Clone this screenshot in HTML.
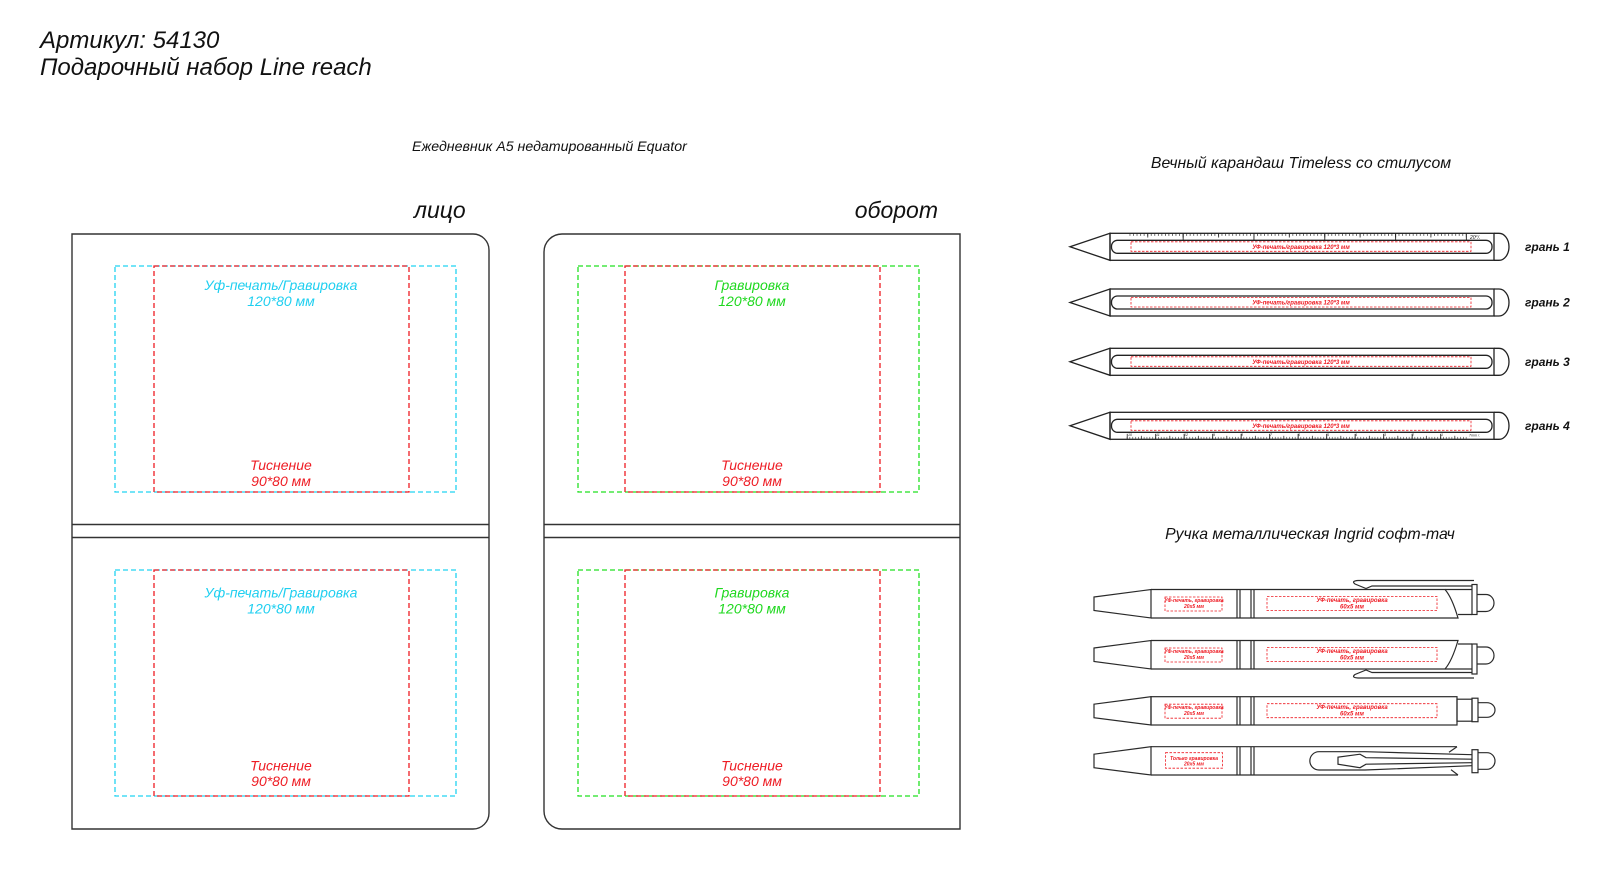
<!DOCTYPE html>
<html><head><meta charset="utf-8"><style>
html,body{margin:0;padding:0;background:#fff;}
svg{display:block;}
text{font-family:"Liberation Sans","DejaVu Sans",sans-serif;font-style:italic;}
</style></head><body>
<svg width="1619" height="891" viewBox="0 0 1619 891" xmlns="http://www.w3.org/2000/svg">
<defs>
<pattern id="tmin" x="1129.6" y="0" width="3.54" height="50" patternUnits="userSpaceOnUse"><rect x="0" y="0" width="0.7" height="50" fill="#333"/></pattern>
<pattern id="tmed" x="1147.3" y="0" width="35.4" height="50" patternUnits="userSpaceOnUse"><rect x="0" y="0" width="0.8" height="50" fill="#222"/></pattern>
<pattern id="tmaj" x="1182.7" y="0" width="70.8" height="50" patternUnits="userSpaceOnUse"><rect x="0" y="0" width="0.9" height="50" fill="#222"/></pattern>
<pattern id="bmin" x="1126.7" y="0" width="2.85" height="50" patternUnits="userSpaceOnUse"><rect x="0" y="0" width="0.6" height="50" fill="#333"/></pattern>
<pattern id="bmed" x="1140.95" y="0" width="28.5" height="50" patternUnits="userSpaceOnUse"><rect x="0" y="0" width="0.7" height="50" fill="#222"/></pattern>
<pattern id="bmaj" x="1126.7" y="0" width="28.5" height="50" patternUnits="userSpaceOnUse"><rect x="0" y="0" width="0.9" height="50" fill="#222"/></pattern>
</defs>
<rect width="1619" height="891" fill="#fff"/>

<!-- Titles -->
<text x="40" y="48" font-size="24" fill="#111">Артикул: 54130</text>
<text x="40" y="75" font-size="24" fill="#111">Подарочный набор Line reach</text>
<text x="412" y="151" font-size="14.2" fill="#111">Ежедневник A5 недатированный Equator</text>
<text x="414" y="218" font-size="23" fill="#111">лицо</text>
<text x="938" y="218" font-size="23" fill="#111" text-anchor="end">оборот</text>
<text x="1301" y="168" font-size="15.8" fill="#111" text-anchor="middle">Вечный карандаш Timeless со стилусом</text>
<text x="1310" y="539" font-size="15.8" fill="#111" text-anchor="middle">Ручка металлическая Ingrid софт-тач</text>

<!-- Notebooks -->
<g fill="none" stroke="#333" stroke-width="1.4">
<path d="M72,234 H473 A16,16 0 0 1 489,250 V813 A16,16 0 0 1 473,829 H72 Z"/>
<line x1="72" y1="524.5" x2="489" y2="524.5"/>
<line x1="72" y1="537.5" x2="489" y2="537.5"/>
<path d="M562,234 H960 V829 H562 A18,18 0 0 1 544,811 V252 A18,18 0 0 1 562,234 Z"/>
<line x1="544" y1="524.5" x2="960" y2="524.5"/>
<line x1="544" y1="537.5" x2="960" y2="537.5"/>
</g>
<g fill="none" stroke-width="1.3" stroke-dasharray="5 3">
<rect x="115" y="266" width="341" height="226" stroke="#22d3f2"/>
<rect x="154" y="266" width="255" height="226" stroke="#ee1c24"/>
<rect x="115" y="570" width="341" height="226" stroke="#22d3f2"/>
<rect x="154" y="570" width="255" height="226" stroke="#ee1c24"/>
<rect x="578" y="266" width="341" height="226" stroke="#22e022"/>
<rect x="625" y="266" width="255" height="226" stroke="#ee1c24"/>
<rect x="578" y="570" width="341" height="226" stroke="#22e022"/>
<rect x="625" y="570" width="255" height="226" stroke="#ee1c24"/>
</g>
<g font-size="14" text-anchor="middle">
<text x="281" y="290" fill="#1fcff0">Уф-печать/Гравировка</text>
<text x="281" y="306" fill="#1fcff0">120*80 мм</text>
<text x="281" y="470" fill="#ee1c24">Тиснение</text>
<text x="281" y="486" fill="#ee1c24">90*80 мм</text>
<text x="281" y="597.5" fill="#1fcff0">Уф-печать/Гравировка</text>
<text x="281" y="613.5" fill="#1fcff0">120*80 мм</text>
<text x="281" y="770.5" fill="#ee1c24">Тиснение</text>
<text x="281" y="786" fill="#ee1c24">90*80 мм</text>
<text x="752" y="290" fill="#1ed81e">Гравировка</text>
<text x="752" y="306" fill="#1ed81e">120*80 мм</text>
<text x="752" y="470" fill="#ee1c24">Тиснение</text>
<text x="752" y="486" fill="#ee1c24">90*80 мм</text>
<text x="752" y="597.5" fill="#1ed81e">Гравировка</text>
<text x="752" y="613.5" fill="#1ed81e">120*80 мм</text>
<text x="752" y="770.5" fill="#ee1c24">Тиснение</text>
<text x="752" y="786" fill="#ee1c24">90*80 мм</text>
</g>

<!-- Pencils -->
<g transform="translate(0,233.3)">
<rect x="1129.6" y="0" width="337" height="2.6" fill="url(#tmin)"/>
<rect x="1129.6" y="0" width="337" height="4.2" fill="url(#tmed)"/>
<rect x="1129.6" y="0" width="337.5" height="6.8" fill="url(#tmaj)"/>
<text x="1470" y="5.5" font-size="5" fill="#222" font-style="normal">20⁰/.</text>
<g fill="none" stroke="#222" stroke-width="1.3">
<polygon points="1070,13.5 1110,0 1110,27"/>
<rect x="1110" y="0" width="384" height="27"/>
<rect x="1111.5" y="7" width="380.5" height="13" rx="6"/>
<path d="M1494,0 H1499 A10,13.5 0 0 1 1499,27 H1494"/>
</g>
<rect x="1131" y="8.5" width="340" height="9.5" fill="none" stroke="#ee1c24" stroke-width="0.8" stroke-dasharray="2.5 1.5"/>
<text x="1301" y="15.5" font-size="6" font-weight="bold" fill="#ee1c24" text-anchor="middle">УФ-печать/гравировка 120*3 мм</text>
<text x="1525" y="17.5" font-size="12" font-weight="bold" fill="#111">грань 1</text>
</g>

<g transform="translate(0,289)">
<g fill="none" stroke="#222" stroke-width="1.3">
<polygon points="1070,13.5 1110,0 1110,27"/>
<rect x="1110" y="0" width="384" height="27"/>
<rect x="1111.5" y="7" width="380.5" height="13" rx="6"/>
<path d="M1494,0 H1499 A10,13.5 0 0 1 1499,27 H1494"/>
</g>
<rect x="1131" y="8.5" width="340" height="9.5" fill="none" stroke="#ee1c24" stroke-width="0.8" stroke-dasharray="2.5 1.5"/>
<text x="1301" y="15.5" font-size="6" font-weight="bold" fill="#ee1c24" text-anchor="middle">УФ-печать/гравировка 120*3 мм</text>
<text x="1525" y="17.5" font-size="12" font-weight="bold" fill="#111">грань 2</text>
</g>

<g transform="translate(0,348.3)">
<g fill="none" stroke="#222" stroke-width="1.3">
<polygon points="1070,13.5 1110,0 1110,27"/>
<rect x="1110" y="0" width="384" height="27"/>
<rect x="1111.5" y="7" width="380.5" height="13" rx="6"/>
<path d="M1494,0 H1499 A10,13.5 0 0 1 1499,27 H1494"/>
</g>
<rect x="1131" y="8.5" width="340" height="9.5" fill="none" stroke="#ee1c24" stroke-width="0.8" stroke-dasharray="2.5 1.5"/>
<text x="1301" y="15.5" font-size="6" font-weight="bold" fill="#ee1c24" text-anchor="middle">УФ-печать/гравировка 120*3 мм</text>
<text x="1525" y="17.5" font-size="12" font-weight="bold" fill="#111">грань 3</text>
</g>

<g transform="translate(0,412.3)">
<rect x="1126.7" y="24.6" width="340" height="2.4" fill="url(#bmin)"/>
<rect x="1126.7" y="23.5" width="340" height="3.5" fill="url(#bmed)"/>
<rect x="1126.7" y="21.5" width="340" height="5.5" fill="url(#bmaj)"/>
<g font-size="3.6" fill="#222" font-style="normal">
<text x="1128" y="23.5">10</text><text x="1156" y="23.5">11</text><text x="1184" y="23.5">12</text>
<text x="1213" y="23.5">9</text><text x="1241" y="23.5">8</text><text x="1270" y="23.5">7</text>
<text x="1298" y="23.5">6</text><text x="1327" y="23.5">5</text><text x="1355" y="23.5">4</text>
<text x="1384" y="23.5">3</text><text x="1412" y="23.5">2</text><text x="1441" y="23.5">1</text>
<text x="1469" y="24">7mm /.</text>
</g>
<g fill="none" stroke="#222" stroke-width="1.3">
<polygon points="1070,13.5 1110,0 1110,27"/>
<rect x="1110" y="0" width="384" height="27"/>
<rect x="1111.5" y="7" width="380.5" height="13" rx="6"/>
<path d="M1494,0 H1499 A10,13.5 0 0 1 1499,27 H1494"/>
</g>
<rect x="1131" y="8.5" width="340" height="9.5" fill="none" stroke="#ee1c24" stroke-width="0.8" stroke-dasharray="2.5 1.5"/>
<text x="1301" y="15.5" font-size="6" font-weight="bold" fill="#ee1c24" text-anchor="middle">УФ-печать/гравировка 120*3 мм</text>
<text x="1525" y="17.5" font-size="12" font-weight="bold" fill="#111">грань 4</text>
</g>

<!-- Pens -->
<g transform="translate(0,589.5)">
<g fill="none" stroke="#2a2a2a" stroke-width="1.2">
<polygon points="1094,7.5 1151,0 1151,28.5 1094,21"/>
<path d="M1151,0 H1445 Q1452,8 1458,28.5 H1151"/>
<line x1="1237" y1="0" x2="1237" y2="28.5"/><line x1="1240" y1="0" x2="1240" y2="28.5"/>
<line x1="1251" y1="0" x2="1251" y2="28.5"/><line x1="1254" y1="0" x2="1254" y2="28.5"/>
<path d="M1445,0 H1472 M1458,25 H1472"/>
<rect x="1472" y="-5" width="5" height="30"/>
<path d="M1477,5 H1486 A8,8.5 0 0 1 1486,22 H1477"/>
<path d="M1474,-9 H1358 Q1351,-8.5 1355,-5.5 L1366,-1 L1372,-3.5 H1472"/>
</g>
<g fill="none" stroke="#ee1c24" stroke-width="0.8" stroke-dasharray="2.5 1.5">
<rect x="1165" y="7.5" width="57" height="14"/>
<rect x="1267" y="7" width="170" height="14"/>
</g>
<g fill="#ee1c24" text-anchor="middle" font-weight="bold">
<text x="1194" y="12.5" font-size="5">УФ-печать, гравировка</text>
<text x="1194" y="18.5" font-size="5">20х5 мм</text>
<text x="1352" y="12.5" font-size="6">УФ-печать, гравировка</text>
<text x="1352" y="19" font-size="6">60х5 мм</text>
</g>
</g>

<g transform="translate(0,640.5)">
<g fill="none" stroke="#2a2a2a" stroke-width="1.2">
<polygon points="1094,7.5 1151,0 1151,28.5 1094,21"/>
<path d="M1151,28.5 H1445 Q1452,20.5 1458,0 H1151"/>
<line x1="1237" y1="0" x2="1237" y2="28.5"/><line x1="1240" y1="0" x2="1240" y2="28.5"/>
<line x1="1251" y1="0" x2="1251" y2="28.5"/><line x1="1254" y1="0" x2="1254" y2="28.5"/>
<path d="M1445,28.5 H1472 M1458,3.5 H1472"/>
<rect x="1472" y="3.5" width="5" height="30"/>
<path d="M1477,6.5 H1486 A8,8.5 0 0 1 1486,23.5 H1477"/>
<path d="M1474,37.5 H1358 Q1351,37 1355,34 L1366,29.5 L1372,32 H1472"/>
</g>
<g fill="none" stroke="#ee1c24" stroke-width="0.8" stroke-dasharray="2.5 1.5">
<rect x="1165" y="7.5" width="57" height="14"/>
<rect x="1267" y="7" width="170" height="14"/>
</g>
<g fill="#ee1c24" text-anchor="middle" font-weight="bold">
<text x="1194" y="12.5" font-size="5">УФ-печать, гравировка</text>
<text x="1194" y="18.5" font-size="5">20х5 мм</text>
<text x="1352" y="12.5" font-size="6">УФ-печать, гравировка</text>
<text x="1352" y="19" font-size="6">60х5 мм</text>
</g>
</g>

<g transform="translate(0,696.7)">
<g fill="none" stroke="#2a2a2a" stroke-width="1.2">
<polygon points="1094,7.5 1151,0 1151,28.3 1094,21"/>
<rect x="1151" y="0" width="306" height="28.3"/>
<line x1="1237" y1="0" x2="1237" y2="28.3"/><line x1="1240" y1="0" x2="1240" y2="28.3"/>
<line x1="1251" y1="0" x2="1251" y2="28.3"/><line x1="1254" y1="0" x2="1254" y2="28.3"/>
<rect x="1457" y="2.5" width="15" height="22"/>
<rect x="1472" y="1.5" width="6" height="23.5"/>
<path d="M1478,6 H1487 A8,7.3 0 0 1 1487,20.6 H1478"/>
</g>
<g fill="none" stroke="#ee1c24" stroke-width="0.8" stroke-dasharray="2.5 1.5">
<rect x="1165" y="7.5" width="57" height="14"/>
<rect x="1267" y="7" width="170" height="14"/>
</g>
<g fill="#ee1c24" text-anchor="middle" font-weight="bold">
<text x="1194" y="12.5" font-size="5">УФ-печать, гравировка</text>
<text x="1194" y="18.5" font-size="5">20х5 мм</text>
<text x="1352" y="12.5" font-size="6">УФ-печать, гравировка</text>
<text x="1352" y="19" font-size="6">60х5 мм</text>
</g>
</g>

<g transform="translate(0,746.7)">
<g fill="none" stroke="#2a2a2a" stroke-width="1.2">
<polygon points="1094,7.5 1151,0 1151,28.3 1094,21"/>
<path d="M1151,0 H1457 M1151,28.3 H1458"/>
<path d="M1449,5.5 L1457,0 M1451,23 L1458,28.3"/>
<line x1="1237" y1="0" x2="1237" y2="28.3"/><line x1="1240" y1="0" x2="1240" y2="28.3"/>
<line x1="1251" y1="0" x2="1251" y2="28.3"/><line x1="1254" y1="0" x2="1254" y2="28.3"/>
<path d="M1472,8 L1365,5 H1319 A9.15,9.15 0 0 0 1319,23.3 H1365 L1472,19"/>
<path d="M1472,12.5 L1366,11 L1360,7.5 L1338,10.5 V17.5 L1360,21 L1366,17.5 L1472,16"/>
<rect x="1472" y="3" width="6" height="23"/>
<path d="M1478,6 H1487 A8,8.3 0 0 1 1487,22.6 H1478"/>
</g>
<rect x="1165.5" y="6" width="57" height="15.5" fill="none" stroke="#ee1c24" stroke-width="0.8" stroke-dasharray="2.5 1.5"/>
<g fill="#ee1c24" text-anchor="middle" font-weight="bold">
<text x="1194" y="13.5" font-size="5">Только гравировка</text>
<text x="1194" y="19" font-size="5">20х5 мм</text>
</g>
</g>
</svg>
</body></html>
